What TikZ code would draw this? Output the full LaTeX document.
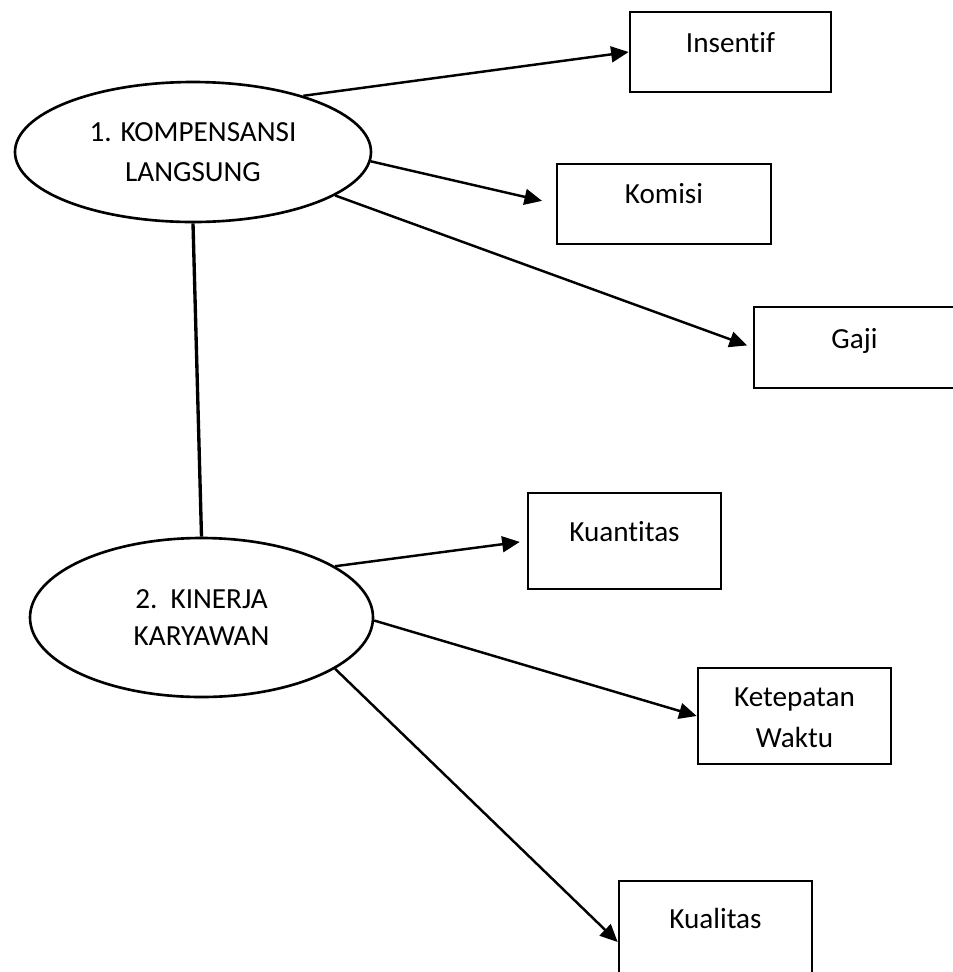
\documentclass[tikz,border=0pt]{standalone}
\usepackage{fontspec}
\setmainfont[Ligatures={NoCommon,NoContextual}]{Carlito}
\usetikzlibrary{shapes.geometric,arrows.meta}
\begin{document}
\begin{tikzpicture}[
    every node/.style={font=\fontsize{16.6}{22.8}\selectfont},
    oval/.style={draw, ellipse, line width=1.5pt, align=center, inner sep=0},
    kotak/.style={draw, rectangle, line width=1.5pt, align=center, inner sep=0},
    panah/.style={-{Triangle[length=10pt,width=9pt]}, line width=1.4pt}
]
    \useasboundingbox (0,0) rectangle (19.06cm,-19.44cm);
    % the two variables
    \node[oval, minimum width=7.12cm, minimum height=2.8cm] (kompensasi) at (3.86cm,-3.04cm) {1. KOMPENSANSI\\LANGSUNG};
    \node[oval, minimum width=6.86cm, minimum height=3.18cm] (kinerja) at (4.03cm,-12.35cm) {2.\ \ KINERJA\\[-1.5pt]KARYAWAN};
    % indicators
    \node[kotak, minimum width=4.02cm, text height=0.8cm, text depth=0.8cm] (insentif) at (14.61cm,-1.04cm) {Insentif};
    \node[kotak, minimum width=4.28cm, text height=0.78cm, text depth=0.82cm] (komisi) at (13.28cm,-4.08cm) {Komisi};
    \node[kotak, minimum width=4.02cm, text height=0.82cm, text depth=0.8cm] (gaji) at (17.09cm,-6.95cm) {Gaji};
    \node[kotak, minimum width=3.86cm, text height=0.96cm, text depth=0.96cm] (kuantitas) at (12.49cm,-10.82cm) {Kuantitas};
    \node[kotak, minimum width=3.86cm, text height=1.58cm, text depth=0.34cm] (ketepatan) at (15.89cm,-14.32cm) {Ketepatan\\Waktu};
    \node[kotak, minimum width=3.86cm, text height=0.94cm, text depth=0.98cm] (kualitas) at (14.31cm,-18.58cm) {Kualitas};
    % connectors
    \draw[line width=1.9pt] (kompensasi.south) -- (kinerja.north);
    \draw[panah] (kompensasi.27) -- (insentif.west);
    \draw[panah, shorten >=0.28cm] (kompensasi.-3) -- (komisi.west);
    \draw[panah, shorten >=0.12cm] (kompensasi.-17) -- (gaji.west);
    \draw[panah, shorten >=0.14cm] (kinerja.21) -- (kuantitas.west);
    \draw[panah] (kinerja.-1) -- (ketepatan.west);
    \draw[panah] (kinerja.-21) -- ([yshift=-0.26cm]kualitas.west);
\end{tikzpicture}
\end{document}
